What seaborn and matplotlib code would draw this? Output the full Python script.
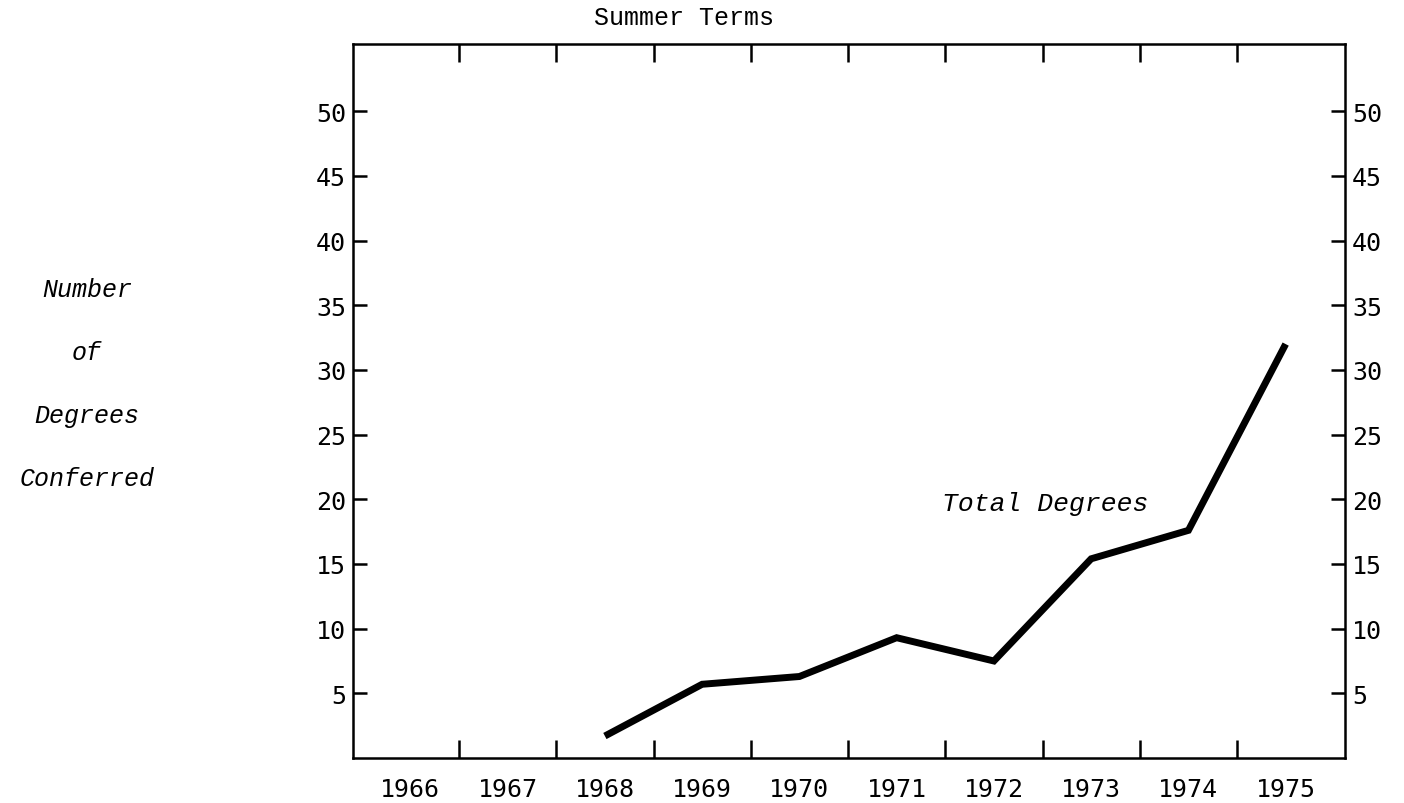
import matplotlib

matplotlib.use("Agg")
import matplotlib.pyplot as plt
import pandas as pd
import seaborn as sns

# values
years = [1968, 1969, 1970, 1971, 1972, 1973, 1974, 1975]
total_degrees = [1.7, 5.7, 6.3, 9.3, 7.5, 15.4, 17.6, 32.0]
year_labels = [1966, 1967, 1968, 1969, 1970, 1971, 1972, 1973, 1974, 1975]
y_ticks = [5, 10, 15, 20, 25, 30, 35, 40, 45, 50]
ylabel_lines = ["Number", "of", "Degrees", "Conferred"]

df = pd.DataFrame({"year": years, "degrees": total_degrees})

sns.set_theme(style="white")
plt.rcParams["font.family"] = ["DejaVu Sans Mono"]
plt.rcParams["text.color"] = "black"
plt.rcParams["xtick.color"] = "black"
plt.rcParams["ytick.color"] = "black"

fig = plt.figure(figsize=(14.04, 8.04), dpi=100)
ax = fig.add_axes([353 / 1404, 1 - 759 / 804, 992 / 1404, 714 / 804])

sns.lineplot(data=df, x="year", y="degrees", ax=ax, color="black",
             linewidth=5, solid_joinstyle="miter", solid_capstyle="butt")

ax.set_xlim(1965.41, 1975.61)
ax.set_ylim(0, 55.2)

# tick marks sit between the years, year labels sit centred under each year
ax.set_xticks([y + 0.5 for y in year_labels[:-1]])
ax.set_xticklabels([])
ax.set_xticks(year_labels, minor=True)
ax.set_xticklabels([str(y) for y in year_labels], minor=True)
ax.tick_params(axis="x", which="major", direction="in", length=13, width=1.8,
               top=True, bottom=True, color="black")
ax.tick_params(axis="x", which="minor", length=0, pad=14, labelsize=18,
               labelcolor="black")

ax.set_yticks(y_ticks)
ax.set_yticklabels([str(v) for v in y_ticks])
ax.tick_params(axis="y", direction="in", length=10, width=1.8, left=True,
               right=True, labelleft=True, labelright=True, labelsize=18,
               pad=5, color="black", labelcolor="black")

for side in ["left", "right", "top", "bottom"]:
    ax.spines[side].set_visible(True)
    ax.spines[side].set_color("black")
    ax.spines[side].set_linewidth(1.8)

ax.set_xlabel("")
ax.set_ylabel("")

fig.text(684 / 1404, 1 - 18 / 804, "Summer Terms", family="Liberation Mono",
         fontsize=18, ha="center", va="center", color="black")

for i, line in enumerate(ylabel_lines):
    fig.text(87 / 1404, 1 - (290 + i * 63) / 804, line, family="Liberation Mono",
             style="italic", fontsize=18, ha="center", va="center",
             color="black")

ax.text(1972.53, 19.75, "Total Degrees", family="Liberation Mono",
        style="italic", fontsize=19, ha="center", va="center", color="black")

fig.savefig("out.png", dpi=100)
